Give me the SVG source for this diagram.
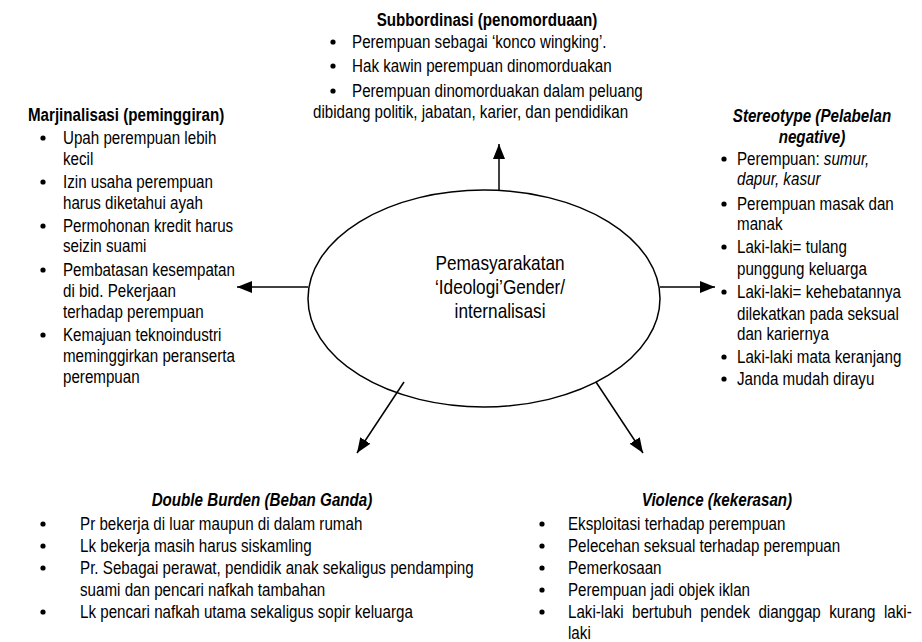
<svg xmlns="http://www.w3.org/2000/svg" width="922" height="642" viewBox="0 0 922 642">
<style>
text{font-family:"Liberation Sans",Arial,sans-serif;font-size:18.5px;fill:#000}
.t{font-weight:bold}
.ti{font-weight:bold;font-style:italic}
.c{text-anchor:middle}
.ctr{font-size:21px;text-anchor:middle}
.i{font-style:italic}
.b{fill:#000}
.conn line{stroke:#000;stroke-width:1.5}
</style>
<defs>
<marker id="ah" markerWidth="15" markerHeight="12" refX="15" refY="6" orient="auto" markerUnits="userSpaceOnUse" viewBox="0 0 15 12">
<path d="M0,0 L15,6 L0,12 z" fill="#000"/>
</marker>
</defs>
<rect width="922" height="642" fill="#fff"/>

<g id="center">
<ellipse cx="484" cy="298.5" rx="176" ry="108.5" fill="none" stroke="#000" stroke-width="1.5"/>
<g transform="scale(0.82,1)">
<text class="ctr" x="609.8" y="270">Pemasyarakatan</text>
<text class="ctr" x="609.8" y="294">‘Ideologi’Gender/</text>
<text class="ctr" x="609.8" y="318">internalisasi</text>
</g>
</g>

<g class="conn" id="connectors">
<line x1="499" y1="190" x2="499" y2="144" marker-end="url(#ah)"/>
<line x1="308" y1="287" x2="237" y2="287" marker-end="url(#ah)"/>
<line x1="660" y1="287" x2="715" y2="287" marker-end="url(#ah)"/>
<line x1="404" y1="382" x2="357" y2="453" marker-end="url(#ah)"/>
<line x1="596" y1="382" x2="643" y2="453" marker-end="url(#ah)"/>
</g>

<g id="subordinasi">
<circle class="b" cx="333" cy="42" r="2.6"/>
<circle class="b" cx="333" cy="66" r="2.6"/>
<circle class="b" cx="333" cy="91" r="2.6"/>
<g transform="scale(0.82,1)">
<text class="t c" x="593.9" y="26">Subbordinasi (penomorduaan)</text>
<text x="429.3" y="48">Perempuan sebagai ‘konco wingking’.</text>
<text x="429.3" y="72">Hak kawin perempuan dinomorduakan</text>
<text x="429.3" y="97">Perempuan dinomorduakan dalam peluang</text>
<text x="381.7" y="118">dibidang politik, jabatan, karier, dan pendidikan</text>
</g>
</g>

<g id="marjinalisasi">
<circle class="b" cx="43" cy="138" r="2.6"/>
<circle class="b" cx="43" cy="182" r="2.6"/>
<circle class="b" cx="43" cy="226" r="2.6"/>
<circle class="b" cx="43" cy="270" r="2.6"/>
<circle class="b" cx="43" cy="335" r="2.6"/>
<g transform="scale(0.82,1)">
<text class="t" x="34.1" y="121">Marjinalisasi (peminggiran)</text>
<text x="76.8" y="144">Upah perempuan lebih</text>
<text x="76.8" y="165">kecil</text>
<text x="76.8" y="188">Izin usaha perempuan</text>
<text x="76.8" y="209">harus diketahui ayah</text>
<text x="76.8" y="232">Permohonan kredit harus</text>
<text x="76.8" y="252">seizin suami</text>
<text x="76.8" y="276">Pembatasan kesempatan</text>
<text x="76.8" y="297">di bid. Pekerjaan</text>
<text x="76.8" y="318">terhadap perempuan</text>
<text x="76.8" y="341">Kemajuan teknoindustri</text>
<text x="76.8" y="362">meminggirkan peranserta</text>
<text x="76.8" y="383">perempuan</text>
</g>
</g>

<g id="stereotype">
<circle class="b" cx="724" cy="159" r="2.6"/>
<circle class="b" cx="724" cy="204" r="2.6"/>
<circle class="b" cx="724" cy="247" r="2.6"/>
<circle class="b" cx="724" cy="292" r="2.6"/>
<circle class="b" cx="724" cy="357" r="2.6"/>
<circle class="b" cx="724" cy="379" r="2.6"/>
<g transform="scale(0.82,1)">
<text class="ti c" x="990.2" y="122">Stereotype (Pelabelan</text>
<text class="ti c" x="990.2" y="143">negative)</text>
<text x="898.8" y="165">Perempuan: <tspan class="i">sumur,</tspan></text>
<text class="i" x="898.8" y="185">dapur, kasur</text>
<text x="898.8" y="210">Perempuan masak dan</text>
<text x="898.8" y="230">manak</text>
<text x="898.8" y="253">Laki-laki= tulang</text>
<text x="898.8" y="275">punggung keluarga</text>
<text x="898.8" y="298">Laki-laki= kehebatannya</text>
<text x="898.8" y="320">dilekatkan pada seksual</text>
<text x="898.8" y="340">dan kariernya</text>
<text x="898.8" y="363">Laki-laki mata keranjang</text>
<text x="898.8" y="385">Janda mudah dirayu</text>
</g>
</g>

<g id="double-burden">
<circle class="b" cx="43" cy="524" r="2.6"/>
<circle class="b" cx="43" cy="546" r="2.6"/>
<circle class="b" cx="43" cy="568" r="2.6"/>
<circle class="b" cx="43" cy="612" r="2.6"/>
<g transform="scale(0.82,1)">
<text class="ti c" x="319.5" y="506">Double Burden (Beban Ganda)</text>
<text x="97.6" y="530">Pr bekerja di luar maupun di dalam rumah</text>
<text x="97.6" y="552">Lk bekerja masih harus siskamling</text>
<text x="97.6" y="574">Pr. Sebagai perawat, pendidik anak sekaligus pendamping</text>
<text x="97.6" y="596">suami dan pencari nafkah tambahan</text>
<text x="97.6" y="618">Lk pencari nafkah utama sekaligus sopir keluarga</text>
</g>
</g>

<g id="violence">
<circle class="b" cx="542" cy="524" r="2.6"/>
<circle class="b" cx="542" cy="546" r="2.6"/>
<circle class="b" cx="542" cy="568" r="2.6"/>
<circle class="b" cx="542" cy="590" r="2.6"/>
<circle class="b" cx="542" cy="612" r="2.6"/>
<g transform="scale(0.82,1)">
<text class="ti c" x="874.4" y="506">Violence (kekerasan)</text>
<text x="692.7" y="530">Eksploitasi terhadap perempuan</text>
<text x="692.7" y="552">Pelecehan seksual terhadap perempuan</text>
<text x="692.7" y="574">Pemerkosaan</text>
<text x="692.7" y="596">Perempuan jadi objek iklan</text>
<text x="692.7" y="618" word-spacing="5.1">Laki-laki bertubuh pendek dianggap kurang laki-</text>
<text x="692.7" y="639">laki</text>
</g>
</g>
</svg>
